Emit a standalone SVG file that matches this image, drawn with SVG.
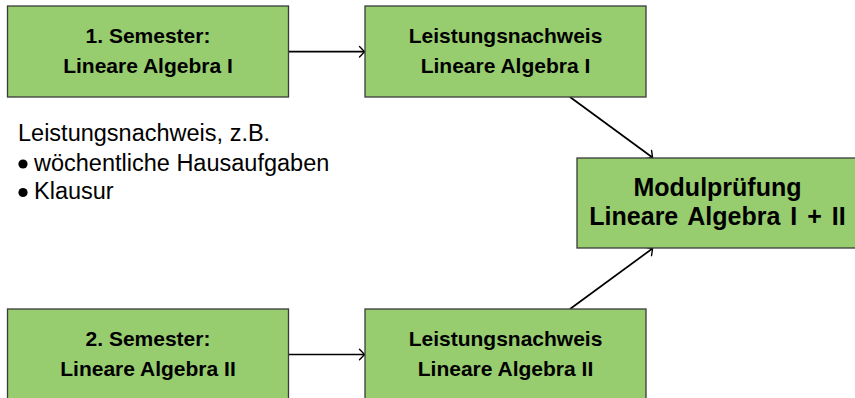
<svg xmlns="http://www.w3.org/2000/svg" width="855" height="398" viewBox="0 0 855 398">
<style>
.box{fill:#97cd6f;stroke:#3a3a3a;stroke-width:1.3}
.bt{font-family:"Liberation Sans",Arial,sans-serif;font-weight:bold;font-size:21px;fill:#000;text-anchor:middle}
.bt2{font-family:"Liberation Sans",Arial,sans-serif;font-weight:bold;font-size:25px;fill:#000;text-anchor:middle}
.lt{font-family:"Liberation Sans",Arial,sans-serif;font-size:23.5px;fill:#000}
.con{stroke:#000;stroke-width:1.7;fill:none;marker-end:url(#arr)}
</style>
<defs>
<marker id="arr" markerUnits="userSpaceOnUse" markerWidth="14" markerHeight="14" refX="0" refY="0" viewBox="-8 -7 10 14" orient="auto" overflow="visible">
<path d="M-5,-5.2 Q-1.2,-1.4 0,0 Q-1.2,1.4 -5,5.2" fill="none" stroke="#000" stroke-width="1.4" stroke-linecap="round"/>
</marker>
</defs>
<rect width="855" height="398" fill="#fff"/>
<g id="connectors">
<line class="con" x1="288.5" y1="51.7" x2="364.5" y2="51.7"/>
<line class="con" x1="288.5" y1="354.5" x2="364.5" y2="354.5"/>
<line class="con" x1="570" y1="97" x2="652.5" y2="157.5"/>
<line class="con" x1="570" y1="309" x2="652.5" y2="248.5"/>
</g>
<g id="sem1">
<rect class="box" x="7.5" y="6" width="281" height="91"/>
<text class="bt" x="148" y="43">1. Semester:</text>
<text class="bt" x="148" y="73">Lineare Algebra I</text>
</g>
<g id="ln1">
<rect class="box" x="365" y="6" width="281" height="91"/>
<text class="bt" x="505.5" y="43">Leistungsnachweis</text>
<text class="bt" x="505.5" y="73">Lineare Algebra I</text>
</g>
<g id="modul">
<rect class="box" x="577" y="158" width="281" height="90"/>
<text class="bt2" x="717.5" y="196">Modulprüfung</text>
<text class="bt2" x="717.5" y="225" word-spacing="3">Lineare Algebra I + II</text>
</g>
<g id="sem2">
<rect class="box" x="7.5" y="309" width="281" height="91"/>
<text class="bt" x="148" y="346">2. Semester:</text>
<text class="bt" x="148" y="376">Lineare Algebra II</text>
</g>
<g id="ln2">
<rect class="box" x="365" y="309" width="281" height="91"/>
<text class="bt" x="505.5" y="346">Leistungsnachweis</text>
<text class="bt" x="505.5" y="376">Lineare Algebra II</text>
</g>
<g id="note">
<text class="lt" x="18" y="141">Leistungsnachweis, z.B.</text>
<circle cx="23" cy="164" r="4.6" fill="#000"/>
<text class="lt" x="34" y="170.5">wöchentliche Hausaufgaben</text>
<circle cx="23" cy="192.5" r="4.6" fill="#000"/>
<text class="lt" x="34" y="199">Klausur</text>
</g>
</svg>
